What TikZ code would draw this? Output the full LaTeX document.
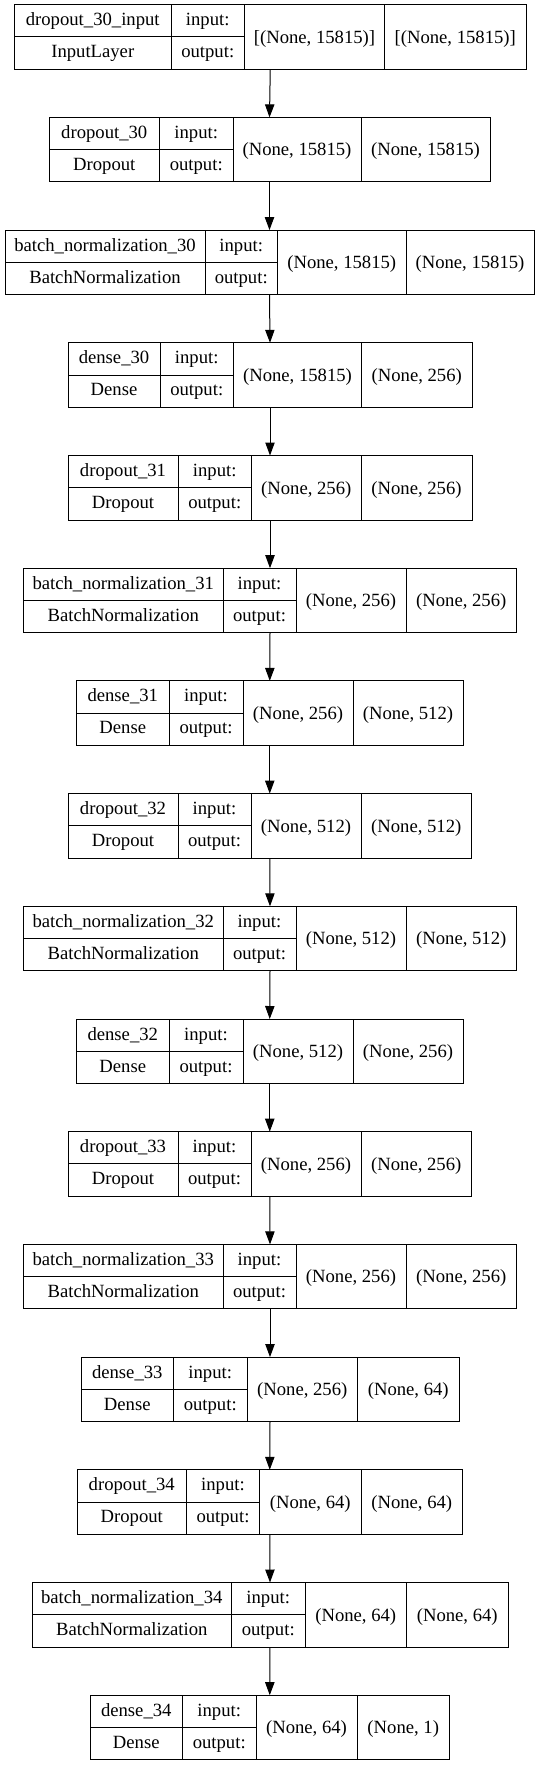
\documentclass[tikz,border=0pt]{standalone}
\usepackage{fontspec}
\setmainfont{LiberationSerif-Regular.ttf}
\newfontfamily\gvfont{LiberationSerif-Regular.ttf}
\usetikzlibrary{arrows.meta,fit}
\begin{document}
\begin{tikzpicture}[x=0.75pt,y=-0.75pt,
  box/.style={draw=black, line width=0.75pt, rectangle, inner sep=0pt, outer sep=0pt},
  cell/.style={draw=black, line width=0.75pt},
  lbl/.style={font=\gvfont\fontsize{14}{16}\selectfont, inner sep=0pt, anchor=base},
  arr/.style={draw=black, line width=0.75pt, -{Triangle[length=9.75pt,width=7pt]}}]
\fill[white] (0,0) rectangle (540,1765);
\useasboundingbox (0,0) rectangle (540,1765);
\foreach \i/\L/\a/\b/\c/\R/\nm/\ty/\si/\so in {
 0/14.5/171/244.5/384.5/526/dropout\_30\_input/InputLayer/{[(None, 15815)]}/{[(None, 15815)]},
 1/49/159.5/233/361/490/dropout\_30/Dropout/{(None, 15815)}/{(None, 15815)},
 2/5/205/277.5/406/534/batch\_normalization\_30/BatchNormalization/{(None, 15815)}/{(None, 15815)},
 3/68/160/233.5/361.5/472/dense\_30/Dense/{(None, 15815)}/{(None, 256)},
 4/68/178/251.5/361/472/dropout\_31/Dropout/{(None, 256)}/{(None, 256)},
 5/23.5/223/296/406/516.5/batch\_normalization\_31/BatchNormalization/{(None, 256)}/{(None, 256)},
 6/76.5/169/243/353/463/dense\_31/Dense/{(None, 256)}/{(None, 512)},
 7/68/178/251/361/471.5/dropout\_32/Dropout/{(None, 512)}/{(None, 512)},
 8/23.5/223/296/406/516.5/batch\_normalization\_32/BatchNormalization/{(None, 512)}/{(None, 512)},
 9/76.5/169/243/353/463/dense\_32/Dense/{(None, 512)}/{(None, 256)},
 10/68/178/251/361/471.5/dropout\_33/Dropout/{(None, 256)}/{(None, 256)},
 11/23.5/223/296/406/516.5/batch\_normalization\_33/BatchNormalization/{(None, 256)}/{(None, 256)},
 12/81/173.5/247/357.5/459/dense\_33/Dense/{(None, 256)}/{(None, 64)},
 13/77/186.5/259.5/361/462.5/dropout\_34/Dropout/{(None, 64)}/{(None, 64)},
 14/32/231.5/305/406.5/508/batch\_normalization\_34/BatchNormalization/{(None, 64)}/{(None, 64)},
 15/90/182.5/256/357/449.5/dense\_34/Dense/{(None, 64)}/{(None, 1)}}
{
  \pgfmathsetmacro{\yt}{4.7+112.7*\i}
  \pgfmathsetmacro{\yb}{\yt+64.5}
  \pgfmathsetmacro{\ym}{\yt+32.25}
  \node[box, fit={(\L,\yt) (\R,\yb)}] (b\i) {};
  \draw[cell] (\a,\yt) -- (\a,\yb);
  \draw[cell] (\b,\yt) -- (\b,\yb);
  \draw[cell] (\c,\yt) -- (\c,\yb);
  \draw[cell] (\L,\ym) -- (\b,\ym);
  \node[lbl] (n\i) at ({(\L+\a)/2},\yt+21) {\nm};
  \node[lbl] (t\i) at ({(\L+\a)/2},\yt+53) {\ty};
  \node[lbl] (pi\i) at ({(\a+\b)/2},\yt+21) {input:};
  \node[lbl] (po\i) at ({(\a+\b)/2},\yt+53) {output:};
  \node[lbl] (si\i) at ({(\b+\c)/2},\yt+38.5) {\si};
  \node[lbl] (so\i) at ({(\c+\R)/2},\yt+38.5) {\so};
}
\foreach \i [evaluate=\i as \j using int(\i+1)] in {0,...,14}
  \draw[arr] (b\i.south) -- (b\j.north);
\end{tikzpicture}
\end{document}
